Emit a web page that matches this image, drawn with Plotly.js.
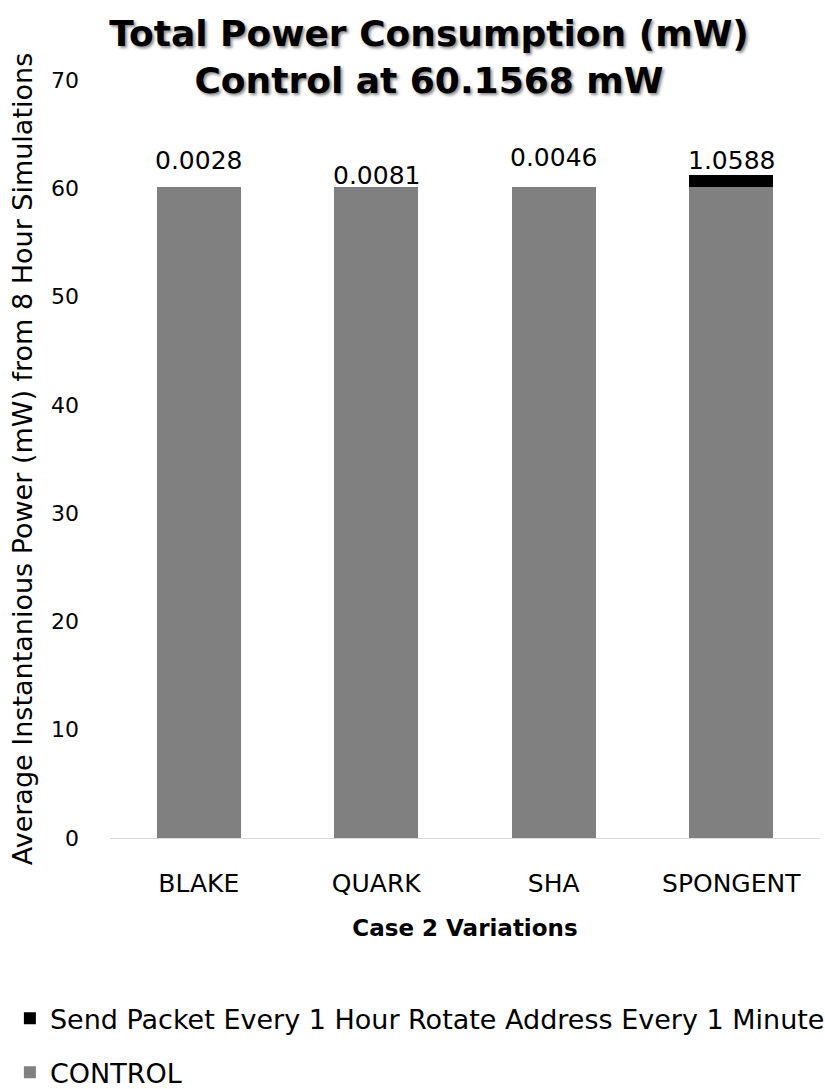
<!DOCTYPE html>
<html>
<head>
<meta charset="utf-8">
<script src="https://cdn.plot.ly/plotly-3.0.1.min.js"></script>
<style>html,body{margin:0;padding:0;background:#fff;}#chart{width:825px;height:1089px;}</style>
</head>
<body>
<div id="chart"></div>
<script>
const categories = ["BLAKE", "QUARK", "SHA", "SPONGENT"];
const controlValues = [60.1568, 60.1568, 60.1568, 60.1568];
const sendPacketValues = [0.0028, 0.0081, 0.0046, 1.0588];
const valueLabels = ["0.0028", "0.0081", "0.0046", "1.0588"];
const seriesNames = ["CONTROL", "Send Packet Every 1 Hour Rotate Address Every 1 Minute"];
const yTicks = [0, 10, 20, 30, 40, 50, 60, 70];
// label vertical offsets (px), as Excel placed them
const labelShift = [10, -5, 13, -2];

const FONT = "'DejaVu Sans', sans-serif";

const traces = [
  {
    type: "bar", name: seriesNames[0], x: categories, y: controlValues,
    marker: {color: "#808080"}, legendgroup: "a", legendrank: 2, hoverinfo: "skip"
  },
  {
    type: "bar", name: seriesNames[1], x: categories, y: sendPacketValues,
    marker: {color: "#000000"}, legendgroup: "b", legendrank: 1, hoverinfo: "skip"
  }
];

const annotations = categories.map((c, i) => ({
  x: c, y: controlValues[i] + sendPacketValues[i], xref: "x", yref: "y",
  text: valueLabels[i], showarrow: false, yanchor: "bottom", yshift: labelShift[i],
  font: {family: FONT, size: 25, color: "#000"}
}));

const layout = {
  width: 825, height: 1089,
  margin: {l: 110, r: 5, t: 80, b: 251, autoexpand: false},
  paper_bgcolor: "#fff", plot_bgcolor: "#fff",
  barmode: "stack", bargap: 0.525,
  showlegend: true,
  title: {
    text: "<b>Total Power Consumption (mW)<br>Control at 60.1568 mW</b>",
    font: {family: FONT, size: 36, color: "#000", shadow: "2px 2px 3px rgba(0,0,0,0.45)"},
    xref: "container", x: 0.52, xanchor: "center",
    yref: "container", y: 0.958, yanchor: "middle"
  },
  xaxis: {
    type: "category", showgrid: false, showline: true, linecolor: "#d9d9d9", linewidth: 1,
    ticks: "", ticklabelstandoff: 23,
    tickfont: {family: FONT, size: 25, color: "#000"},
    title: {text: "<b>Case 2 Variations</b>", font: {family: FONT, size: 23, color: "#000"}, standoff: 22}
  },
  yaxis: {
    range: [0, 70], tickvals: yTicks, showgrid: false, zeroline: false, showline: false,
    ticks: "", ticklabelstandoff: 30,
    tickfont: {family: FONT, size: 22, color: "#000"},
    title: {text: "Average Instantanious Power (mW) from 8 Hour Simulations",
            font: {family: FONT, size: 27, color: "#000"}, standoff: 10}
  },
  legend: {
    orientation: "v", x: -0.141, xanchor: "left", y: -0.206, yanchor: "top",
    traceorder: "grouped", tracegroupgap: 16,
    font: {family: FONT, size: 27, color: "#000"}, itemwidth: 30
  },
  annotations: annotations
};

Plotly.newPlot("chart", traces, layout, {displayModeBar: false, staticPlot: true});
</script>
</body>
</html>
